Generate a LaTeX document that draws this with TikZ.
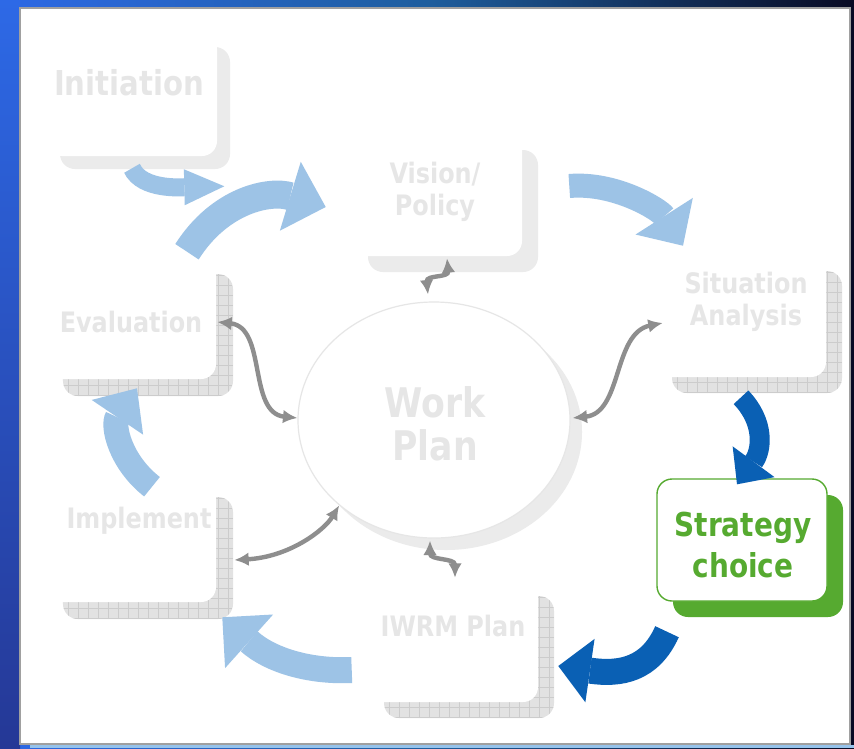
\documentclass[tikz,border=0pt]{standalone}
\usepackage{fontspec}
\setmainfont[FakeStretch=0.85]{DejaVu Sans}
\usetikzlibrary{arrows.meta, shapes.geometric}

\definecolor{slideblue}{HTML}{2D69E6}
\definecolor{slideteal}{HTML}{1E5E9E}
\definecolor{slidenavy}{HTML}{080A23}
\definecolor{slidedeep}{HTML}{253896}
\definecolor{bottomblue}{HTML}{96C3EB}
\definecolor{panelgray}{HTML}{A0A0A0}
\definecolor{lightarrow}{HTML}{9DC3E6}
\definecolor{darkarrow}{HTML}{0A60B4}
\definecolor{stepgreen}{HTML}{56AA30}
\definecolor{fadetext}{HTML}{E6E6E6}
\definecolor{shadowgray}{HTML}{EBEBEB}
\definecolor{gridgray}{HTML}{E2E2E2}
\definecolor{gridline}{HTML}{CCCCCC}
\definecolor{circleline}{HTML}{E6E6E6}
\definecolor{linkgray}{HTML}{8E8E8E}

\tikzset{
  stepbox/.style={rectangle, rounded corners=3.75mm, minimum width=42.5mm,
    minimum height=30.5mm, inner sep=0pt, fill=white},
  plainshadow/.style={preaction={fill=shadowgray, transform canvas={shift={(#1,#1)}}}},
  gridshadow/.style={preaction={fill=gridgray, transform canvas={shift={(#1,#1)}},
    path picture={\draw[gridline, line width=0.3pt]
      (path picture bounding box.south west) grid[step=2.5mm]
      (path picture bounding box.north east);}}},
  steptext/.style={font=\bfseries\fontsize{20}{22.8}\selectfont, text=fadetext,
    align=center, inner sep=0pt},
  blockarrow/.style n args={3}{line width=#1,
    -{Triangle[length=#2, width=#3, line width=0pt]}},
  link/.style={draw=linkgray, line width=1.1mm,
    {Latex[length=3.6mm, width=3.4mm]}-{Latex[length=3.6mm, width=3.4mm]}},
}

\begin{document}
\begin{tikzpicture}[x=0.25mm, y=-0.25mm]
\useasboundingbox (0,0) rectangle (854,748);

% slide background
\shade[left color=slideblue, right color=slidenavy, middle color=slideteal] (0,0) rectangle (854,748);
\shade[top color=slideblue, bottom color=slidedeep] (0,0) rectangle (20,748);
\fill[bottomblue] (30,745) rectangle (854,748);
\draw[panelgray, line width=0.5mm, fill=white] (20,8) rectangle (850,744);

% steps of the cycle
\node[stepbox, plainshadow=13] (init) at (132,95) {};
\node[stepbox, plainshadow=16] (vision) at (437,195) {};
\node[stepbox, gridshadow=16] (sit) at (741,316) {};
\node[stepbox, gridshadow=17] (eval) at (131,318) {};
\node[stepbox, gridshadow=17] (impl) at (131,541) {};
\node[stepbox, gridshadow=16] (iwrm) at (453,641) {};
\node[stepbox, draw=stepgreen, line width=0.35mm,
  preaction={fill=stepgreen, transform canvas={shift={(16,16)}}}] (strat) at (742,540) {};

\node[ellipse, minimum width=68mm, minimum height=59mm, inner sep=0pt, fill=white,
  draw=circleline, line width=0.3mm, plainshadow=12] (work) at (434,420) {};

% block arrows
\draw[lightarrow, blockarrow={4.5mm}{10mm}{9mm}]
  ([shift={(0,12)}]init.south) .. controls +(10,22) and +(-42,1) .. ([shift={(7,30)}]init.south east);
\draw[lightarrow, blockarrow={7mm}{9.25mm}{18mm}]
  ([shift={(56,-5)}]eval.north) .. controls +(33,-52) and +(-56,-17) .. ([shift={(-26,12)}]vision.west);
\draw[lightarrow, blockarrow={6mm}{8.75mm}{17mm}]
  ([shift={(47,-9)}]vision.east) .. controls +(46,-4) and +(-23,-36) .. ([shift={(-58,-9)}]sit.north);
\draw[darkarrow, blockarrow={5mm}{7mm}{13mm}]
  ([shift={(0,20)}]sit.south) .. controls +(24,25) and +(25,-34) .. ([shift={(-5,6)}]strat.north);
\draw[darkarrow, blockarrow={6.5mm}{8mm}{16mm}]
  ([shift={(-75,30)}]strat.south) .. controls +(-17,38) and +(62,9) .. ([shift={(20,25)}]iwrm.east);
\draw[lightarrow, blockarrow={6.5mm}{9mm}{18mm}]
  ([shift={(-16,29)}]iwrm.west) .. controls +(-42,2) and +(48,43) .. ([shift={(6,15)}]impl.south east);
\draw[lightarrow, blockarrow={6.25mm}{8.75mm}{15.5mm}]
  ([shift={(21,7)}]impl.north) .. controls +(-32,-25) and +(-25,37) .. ([shift={(6,9)}]eval.south);

% links to the work plan
\draw[link] ([shift={(10,2)}]vision.south) .. controls +(2,20) and +(-2,-20) .. ([shift={(-6,-7)}]work.north);
\draw[link] ([shift={(7,7)}]sit.west) .. controls +(-50,10) and +(50,-5) .. ([shift={(2,-2)}]work.east);
\draw[link] ([shift={(1,4)}]eval.east) .. controls +(50,5) and +(-50,-5) .. ([shift={(0,-2)}]work.west);
\draw[link] ([shift={(18,19)}]impl.east) .. controls +(55,-3) and +(-15,25) .. (work.222);
\draw[link] ([shift={(-4,2)}]work.south) .. controls +(0,20) and +(0,-20) .. ([shift={(2,-2)}]iwrm.north);

% labels
\node[steptext, font=\bfseries\fontsize{24.4}{28}\selectfont] (initT) at (129,83) {Initiation};
\node[steptext] (visionT) at (435,192) {Vision/\\Policy};
\node[steptext] (sitT) at (746,302) {Situation\\Analysis};
\node[steptext] (evalT) at (131,322) {Evaluation};
\node[steptext] (implT) at (139,521) {Implement};
\node[steptext] (iwrmT) at (453,626) {IWRM Plan};
\node[steptext, text=stepgreen, font=\bfseries\fontsize{23.4}{28.5}\selectfont] (stratT) at (743,545) {Strategy\\choice};
\node[steptext, font=\bfseries\fontsize{29}{30.6}\selectfont] (workT) at (435,424) {Work\\Plan};
\end{tikzpicture}
\end{document}
